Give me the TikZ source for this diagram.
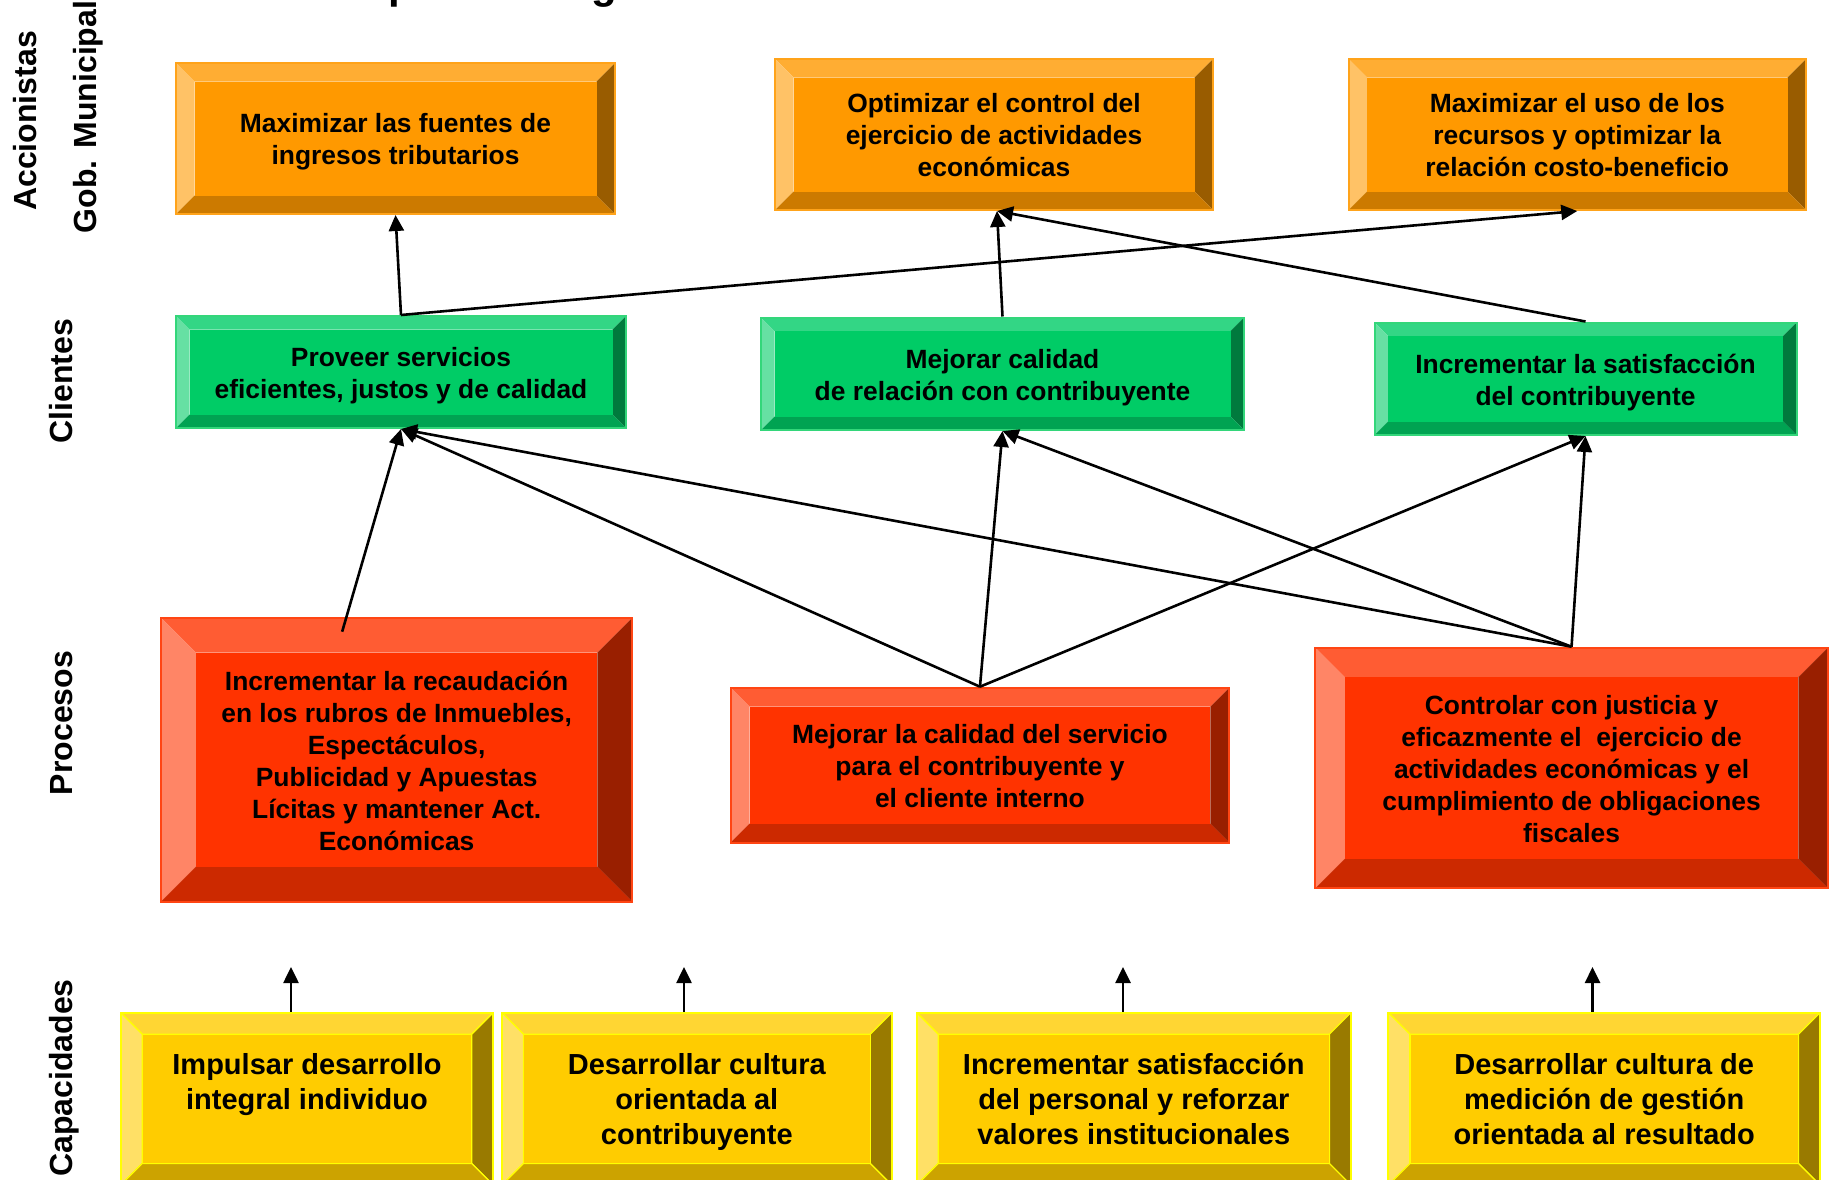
\documentclass[tikz,border=0pt]{standalone}
\usepackage{fontspec}
\setmainfont{Liberation Sans}
\usetikzlibrary{arrows.meta}

% orange
\definecolor{orF}{HTML}{FF9900}\definecolor{orT}{HTML}{FFAD33}\definecolor{orL}{HTML}{FFC266}
\definecolor{orD}{HTML}{CC7A00}\definecolor{orR}{HTML}{995C00}\definecolor{orB}{HTML}{FFA31A}
% green
\definecolor{grF}{HTML}{00CC66}\definecolor{grT}{HTML}{33D685}\definecolor{grL}{HTML}{66E0A3}
\definecolor{grD}{HTML}{00A352}\definecolor{grR}{HTML}{007A3D}\definecolor{grB}{HTML}{33D67A}
% red
\definecolor{reF}{HTML}{FF3300}\definecolor{reT}{HTML}{FF5C33}\definecolor{reL}{HTML}{FF8566}
\definecolor{reD}{HTML}{CC2900}\definecolor{reR}{HTML}{991F00}\definecolor{reB}{HTML}{FF4513}
% yellow
\definecolor{yeF}{HTML}{FFCC00}\definecolor{yeT}{HTML}{FFD633}\definecolor{yeL}{HTML}{FFE066}
\definecolor{yeD}{HTML}{CCA300}\definecolor{yeR}{HTML}{997A00}\definecolor{yeB}{HTML}{FFFF00}

\tikzset{
  orP/.style={}, grP/.style={}, reP/.style={},
  yeP/.style={draw=yeB, line width=1.2pt, line join=round},
  boxtxt/.style={font=\fontsize{26.4}{32}\selectfont\bfseries, inner sep=0pt, text=black,
    execute at begin node={\def\txtdrop{4pt}}},
  yeltxt/.style={font=\fontsize{29}{35}\selectfont\bfseries, inner sep=0pt, text=black,
    execute at begin node={\def\txtdrop{3.8pt}}},
  sidelab/.style={font=\fontsize{32}{38}\selectfont\bfseries, rotate=90, inner sep=0pt, anchor=base},
  titlefrag/.style={font=\fontsize{42}{50}\selectfont\bfseries, inner sep=0pt, anchor=base west},
  conn/.style={line width=2.6pt, -{Triangle[length=16pt,width=15pt]}},
}

% #1 name, #2 x1, #3 y1, #4 x2, #5 y2, #6 bevel, #7 colour family, #8 text style, #9 text
\newcommand\bevelbox[9]{%
  \path[fill=#7T, #7P] (#2,#3) -- (#4,#3) -- (#4-#6,#3+#6) -- (#2+#6,#3+#6) -- cycle;
  \path[fill=#7L, #7P] (#2,#3) -- (#2+#6,#3+#6) -- (#2+#6,#5-#6) -- (#2,#5) -- cycle;
  \path[fill=#7R, #7P] (#4,#3) -- (#4,#5) -- (#4-#6,#5-#6) -- (#4-#6,#3+#6) -- cycle;
  \path[fill=#7D, #7P] (#2,#5) -- (#4,#5) -- (#4-#6,#5-#6) -- (#2+#6,#5-#6) -- cycle;
  \path[fill=#7F, #7P] (#2+#6,#3+#6) rectangle (#4-#6,#5-#6);
  \node[#8, draw=#7B, line width=2pt, minimum width={(#4-#2)*1pt}, minimum height={(#5-#3)*1pt}]
    (#1) at ({(#2+#4)/2},{(#3+#5)/2})
    {\raisebox{-\txtdrop}[\height][\depth]{\begin{tabular}{@{}c@{}}#9\end{tabular}}};
}

\begin{document}
\begin{tikzpicture}[x=1pt,y=-1pt]
\fill[white] (0,0) rectangle (1829,1179);
\useasboundingbox (0,0) rectangle (1829,1179);

% Cut-off title: the reference shows only the descenders of a "p" and a "g"
% at its top edge. The words below are a GUESS chosen to reproduce those two
% marks; the real title is not legible in the reference.
\node[titlefrag] (title) at (330,-2) {Mapa Estratégico};

% side labels
\node[sidelab] (lacc) at (36,121) {Accionistas};
\node[sidelab] (lgob) at (96.5,117) {Gob. Municipal};
\node[sidelab] (lcli) at (72,381) {Clientes};
\node[sidelab] (lpro) at (72,723) {Procesos};
\node[sidelab] (lcap) at (72,1078) {Capacidades};

% Accionistas
\bevelbox{o1}{176}{63}{615}{214}{18.5}{or}{boxtxt}{Maximizar las fuentes de\\ingresos tributarios}
\bevelbox{o2}{775}{59}{1213}{210}{18.5}{or}{boxtxt}{Optimizar el control del\\ejercicio de actividades\\económicas}
\bevelbox{o3}{1348.5}{59}{1806}{210}{18.5}{or}{boxtxt}{Maximizar el uso de los\\recursos y optimizar la\\relación costo-beneficio}

% Clientes
\bevelbox{g1}{176}{316}{626}{428}{13.5}{gr}{boxtxt}{Proveer servicios\\eficientes, justos y de calidad}
\bevelbox{g2}{761}{317.5}{1244}{430}{13.5}{gr}{boxtxt}{Mejorar calidad\\de relación con contribuyente}
\bevelbox{g3}{1374.5}{322.5}{1796.5}{435}{13.5}{gr}{boxtxt}{Incrementar la satisfacción\\del contribuyente}

% Procesos
\bevelbox{r1}{161}{617.7}{632.3}{901.7}{35}{re}{boxtxt}{Incrementar la recaudación\\en los rubros de Inmuebles,\\Espectáculos,\\Publicidad y Apuestas\\Lícitas y mantener Act.\\Económicas}
\bevelbox{r2}{730.5}{687.7}{1229.4}{842.7}{19}{re}{boxtxt}{Mejorar la calidad del servicio\\para el contribuyente y\\el cliente interno}
\bevelbox{r3}{1315.3}{647.7}{1827.8}{888.3}{29.5}{re}{boxtxt}{Controlar con justicia y\\eficazmente el\ \ ejercicio de\\actividades económicas y el\\cumplimiento de obligaciones\\fiscales}

% Capacidades
\bevelbox{y1}{120.7}{1012.7}{493.3}{1185}{21.5}{ye}{yeltxt}{Impulsar desarrollo\\integral individuo\\\mbox{}}
\bevelbox{y2}{502}{1012.7}{891.7}{1185}{21.5}{ye}{yeltxt}{Desarrollar cultura\\orientada al\\contribuyente}
\bevelbox{y3}{916.7}{1012.7}{1350.9}{1185}{21.5}{ye}{yeltxt}{Incrementar satisfacción\\del personal y reforzar\\valores institucionales}
\bevelbox{y4}{1388.4}{1012.7}{1820}{1185}{21.5}{ye}{yeltxt}{Desarrollar cultura de\\medición de gestión\\orientada al resultado}

% connectors clientes -> accionistas
\draw[conn] (g1.north) -- (o1.south);
\draw[conn] (g1.north) -- (o3.south);
\draw[conn] (g2.north) -- ([xshift=3pt]o2.south);
\draw[conn] (g3.north) -- ([xshift=3pt]o2.south);

% connectors procesos -> clientes
\draw[conn] ([xshift=-54.5pt,yshift=-15pt]r1.north) -- (g1.south);
\draw[conn] (r2.north) -- (g1.south);
\draw[conn] (r2.north) -- (g2.south);
\draw[conn] (r2.north) -- (g3.south);
\draw[conn] (r3.north) -- (g1.south);
\draw[conn] (r3.north) -- (g2.south);
\draw[conn] (r3.north) -- (g3.south);

% capacidades arrows (free ends)
\coordinate (y1t) at (291,967);
\coordinate (y2t) at (684,967);
\coordinate (y3t) at (1123,967);
\coordinate (y4t) at (1592.5,967);
\draw[conn] (y1.north -| y1t) -- (y1t);
\draw[conn] (y2.north -| y2t) -- (y2t);
\draw[conn] (y3.north -| y3t) -- (y3t);
\draw[conn] (y4.north -| y4t) -- (y4t);
\end{tikzpicture}
\end{document}
